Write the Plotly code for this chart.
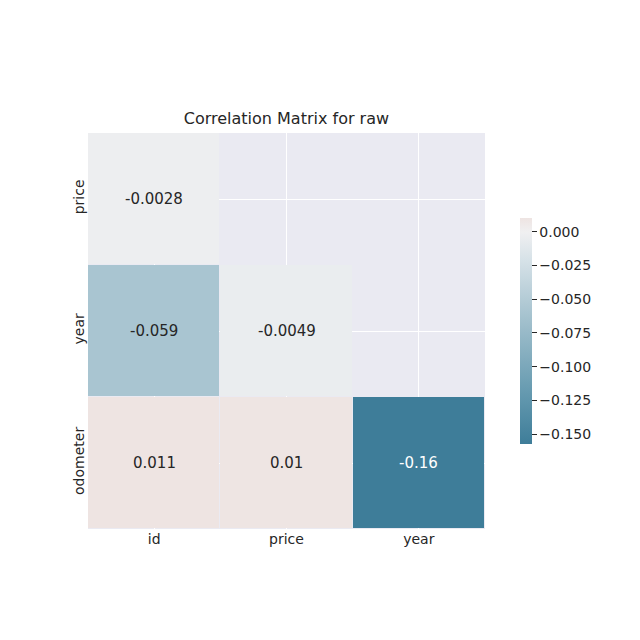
import plotly.graph_objects as go

x_labels = ["id", "price", "year"]
y_labels = ["price", "year", "odometer"]
values = [
    [-0.0028, None, None],
    [-0.059, -0.0049, None],
    [0.011, 0.01, -0.16],
]
text_labels = [
    ["-0.0028", "", ""],
    ["-0.059", "-0.0049", ""],
    ["0.011", "0.01", "-0.16"],
]

vmin, vmax = -0.157, 0.0105
def pos(v):
    return (v - vmin) / (vmax - vmin)

colorscale = [
    [0.0, "rgb(62,125,153)"],
    [pos(-0.12), "rgb(100,153,175)"],
    [pos(-0.06), "rgb(168,196,208)"],
    [pos(-0.02), "rgb(215,226,232)"],
    [pos(0.0), "rgb(240,240,241)"],
    [1.0, "rgb(238,228,226)"],
]

fig = go.Figure(go.Heatmap(
    z=values, x=[0, 1, 2], y=[0, 1, 2],
    zmin=vmin, zmax=vmax, colorscale=colorscale,
    xgap=1, ygap=1, hoverongaps=False,
    colorbar=dict(x=1.063, xanchor="left", y=0.501, yanchor="middle", len=0.62,
                  thickness=12, outlinewidth=0,
                  tickvals=[0, -0.025, -0.05, -0.075, -0.1, -0.125, -0.15],
                  ticktext=["0.000", "−0.025", "−0.050", "−0.075", "−0.100", "−0.125", "−0.150"],
                  ticks="outside", ticklen=5, tickcolor="#262626",
                  tickfont=dict(size=14, color="#262626")),
))

for i, row in enumerate(values):
    for j, v in enumerate(row):
        if v is None:
            continue
        fig.add_annotation(x=j, y=i, text=text_labels[i][j].replace("-", "−") if False else text_labels[i][j],
                           showarrow=False,
                           font=dict(size=15, color="white" if v < -0.1 else "#262626"))

fig.update_layout(
    width=640, height=640,
    margin=dict(l=80, r=163, t=125, b=119),
    paper_bgcolor="white", plot_bgcolor="#eaeaf2",
    font=dict(family="DejaVu Sans", color="#262626"),
    title=dict(text="Correlation Matrix for raw", x=0.435, xanchor="center", y=0.828, yanchor="middle",
               font=dict(size=16, color="#262626")),
    showlegend=False,
)
fig.update_xaxes(range=[-0.5, 2.5], tickvals=[0, 1, 2], ticktext=x_labels,
                 showgrid=True, gridcolor="white", gridwidth=1.2, zeroline=False,
                 tickfont=dict(size=14), ticks="", constrain="domain")
fig.update_yaxes(range=[2.5, -0.5], tickvals=[0, 1, 2], ticktext=y_labels,
                 showgrid=True, gridcolor="white", gridwidth=1.2, zeroline=False,
                 tickfont=dict(size=14), ticks="", tickangle=-90)

fig.write_html("out.html")
